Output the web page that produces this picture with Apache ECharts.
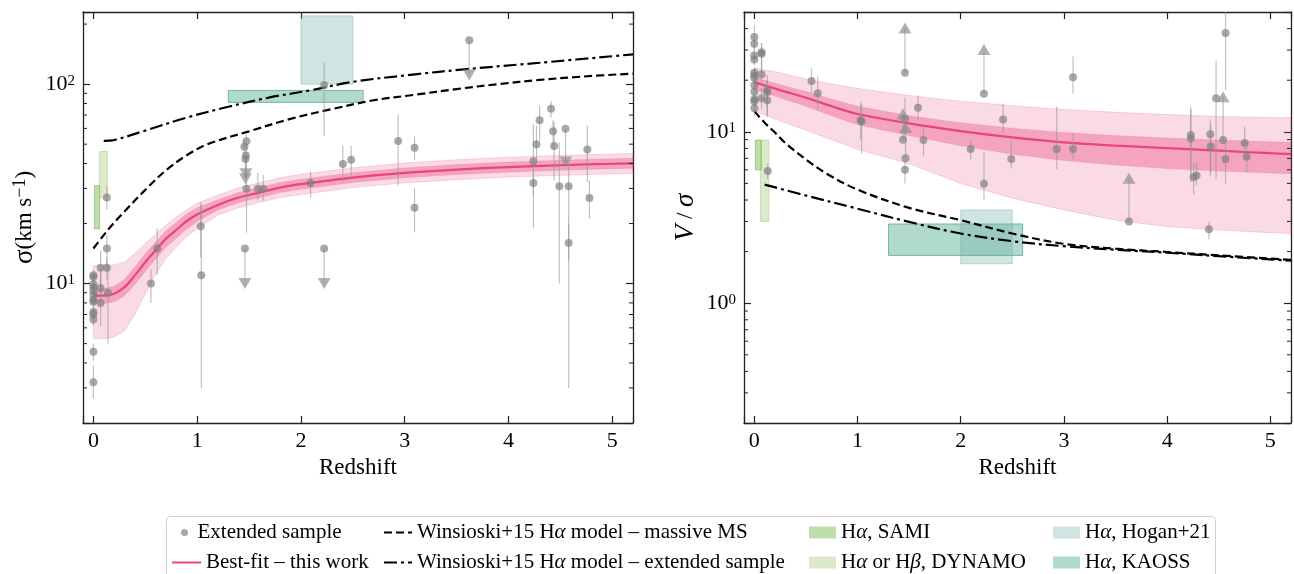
<!DOCTYPE html>
<html><head><meta charset="utf-8">
<script src="https://cdn.jsdelivr.net/npm/echarts@6/dist/echarts.min.js"></script>
<style>html,body{margin:0;padding:0;background:#fff;} #c{width:1294px;height:574px;}</style>
</head><body><div id="c"></div>
<script>
const FONT = '"Liberation Serif", "Times New Roman", serif';

// ---------- tick labels ----------
const xTickValues = [0, 1, 2, 3, 4, 5];
const sigmaMinorTicks = [3,4,5,6,7,8,9,20,30,40,50,60,70,80,90,200];
const vsMinorTicks = [0.3,0.4,0.5,0.6,0.7,0.8,0.9,2,3,4,5,6,7,8,9,20,30,40];

// ---------- sigma panel ----------
// [redshift, sigma, errLow, errHigh]
const sigmaPoints = [
 [0.00,11.0,10.3,11.7],[0.00,10.8,10.2,11.4],[0.00,9.9,9.3,10.5],[0.00,9.6,9.0,10.2],
 [0.00,9.2,8.7,9.8],[0.00,8.8,8.3,9.4],[0.00,8.3,7.8,8.8],[0.00,8.1,7.6,8.6],
 [0.00,7.2,6.8,7.7],[0.00,7.0,6.6,7.5],[0.00,6.6,6.2,7.0],[0.00,4.55,4.1,5.0],
 [0.00,3.2,2.65,3.9],
 [0.07,12.0,9.6,14.6],[0.07,9.5,8.6,10.5],[0.07,8.0,6.1,11.5],
 [0.13,27.0,23.5,31.0],[0.13,15.0,12.5,17.5],[0.13,12.0,10.5,13.5],[0.14,9.0,5.0,12.5],
 [0.555,10.0,8.0,11.8],[0.615,15.0,11.0,18.9],[1.035,19.4,13.6,25.6],[1.04,11.0,3.0,25.0],
 [1.455,48.6,44.0,53.0],[1.475,51.7,47.0,56.0],[1.475,29.9,18.0,50.0],
 [1.585,29.9,26.0,36.0],[1.637,29.9,26.0,35.0],[2.093,31.9,27.0,36.5],
 [2.224,98.9,55.0,128.0],[2.404,39.8,32.5,49.0],[2.484,41.8,34.0,49.0],
 [2.937,51.9,31.0,70.0],[3.095,48.0,41.5,54.8],[3.095,24.0,18.1,30.0],
 [4.24,41.0,19.0,63.0],[4.24,31.9,28.0,36.0],[4.27,49.9,40.0,62.0],[4.30,65.9,52.0,78.0],
 [4.41,75.2,68.0,82.0],[4.43,58.0,47.0,66.0],[4.44,49.0,33.0,64.6],[4.49,30.8,10.0,51.0],
 [4.58,30.8,3.0,40.7],[4.58,16.0,13.0,20.0],[4.76,47.0,32.3,62.0],[4.78,26.9,21.2,33.0]
];
// [redshift, sigma, arrow end]  (upper limits)
const sigmaUpperLimits = [
 [1.465,42.2,33.5],[1.47,43.9,35.5],[1.46,15.0,10.0],[2.224,15.0,10.0],
 [3.622,166,111],[4.55,59.8,40.7]
];
const sigmaFitZ  = [0,0.1,0.2,0.3,0.4,0.5,0.6,0.7,0.8,0.9,1.0,1.2,1.4,1.6,1.8,2.0,2.5,3.0,3.5,4.0,4.5,5.0,5.2];
const sigmaFit   = [8.7,8.7,8.9,9.6,11.0,12.8,14.7,16.8,18.6,20.6,22.2,24.8,27.0,28.6,30.3,31.5,34.0,35.9,37.3,38.4,39.2,39.9,40.1];
const sigmaInLo  = [7.95,7.95,8.1,8.7,9.9,11.5,13.3,15.2,16.9,18.8,20.5,23.4,25.5,27.0,28.6,29.7,32.1,33.9,35.2,36.2,37.0,37.7,37.9];
const sigmaInHi  = [9.45,9.45,9.7,10.5,12.1,14.1,16.1,18.4,20.3,22.4,24.0,26.3,28.6,30.3,32.1,33.4,36.0,38.0,39.5,40.7,41.5,42.3,42.5];
const sigmaOutLo = [5.3,5.3,5.4,5.8,7.0,8.9,11.2,13.4,15.3,17.2,18.9,22.1,24.0,25.5,27.0,28.0,30.3,32.0,33.2,34.2,34.9,35.5,35.7];
const sigmaOutHi = [12.3,12.3,12.4,12.8,14.2,15.9,17.7,19.7,21.6,23.5,25.2,27.8,30.2,32.0,33.9,35.3,38.1,40.2,41.8,43.0,43.9,44.7,44.9];
const sigmaMassiveZ = [0,0.1,0.2,0.3,0.5,0.7,0.9,1.1,1.5,1.9,2.3,2.7,3.1,3.5,3.9,4.3,4.7,5.2];
const sigmaMassive  = [15,17.5,20.2,23.0,29.5,37,44,50,58,67,75,83,88.5,94.5,100,105,109,113];
const sigmaExtZ = [0.1,0.2,0.5,0.9,1.3,1.7,2.1,2.5,3.1,3.6,4.3,5.2];
const sigmaExt  = [52,52.5,58.5,68,77,85.8,93.3,102.7,112,119,128,141];
// boxes [z0, z1, low, high]
const sigmaSAMI   = [0.01,0.06,18.8,31];
const sigmaDYNAMO = [0.06,0.135,27,46];
const sigmaHogan  = [2.0,2.5,100,220];
const sigmaKAOSS  = [1.3,2.6,81,93];

// ---------- V/sigma panel ----------
const vsPoints = [
 [0.00,35.7,30.0,42.0],[0.00,32.6,30.0,35.0],[0.00,27.9,26.0,30.0],[0.00,26.4,24.5,28.5],
 [0.00,22.1,20.5,23.8],[0.00,21.4,19.8,23.0],[0.00,20.7,19.2,22.3],[0.00,18.7,17.3,20.1],
 [0.00,17.1,15.9,18.4],[0.00,15.5,14.4,16.7],[0.00,15.1,14.0,16.3],[0.00,13.7,12.3,15.0],
 [0.07,29.1,22.0,33.0],[0.07,28.5,24.0,33.0],[0.07,21.6,18.5,24.0],[0.07,15.7,13.5,18.0],
 [0.125,17.5,12.5,21.5],[0.125,17.0,14.0,20.0],[0.125,15.3,12.2,17.5],[0.13,5.9,5.3,6.5],
 [0.554,19.8,16.8,23.5],[0.614,16.8,13.5,21.0],[1.03,11.7,9.0,15.0],[1.04,11.5,7.5,14.5],
 [1.46,11.9,9.5,15.8],[1.46,6.0,5.0,6.8],
 [1.586,13.8,11.8,16.3],[1.639,8.95,7.2,10.8],[2.096,7.94,6.9,9.0],[2.225,4.97,4.0,7.6],
 [2.41,11.8,9.75,14.6],[2.49,6.94,6.1,8.8],[2.93,7.94,6.05,14.0],[3.088,7.94,6.9,9.9],
 [3.088,20.8,16.7,27.5],[4.229,9.57,5.1,13.9],[4.229,9.15,5.5,13.5],[4.257,5.43,4.3,6.6],
 [4.285,5.56,4.9,6.6],[4.405,2.7,2.35,3.0],[4.418,9.69,5.5,11.8],[4.422,8.22,5.75,10.9],
 [4.474,15.7,5.3,26.0],[4.566,37.7,17.5,50.0],[4.566,6.94,5.0,8.6],[4.751,8.6,6.9,10.7],
 [4.771,7.16,5.75,8.6]
];
// [redshift, V/sigma, arrow end]  (lower limits)
const vsLowerLimits = [
 [1.46,22.1,40.3],[1.44,9.0,12.7],[1.465,7.0,10.6],[2.225,16.7,30.2],
 [3.63,3.0,5.36],[4.542,8.95,16.0]
];
const vsFitZ  = [0,0.25,0.5,0.75,1.0,1.5,2.0,2.5,3.0,3.5,4.0,4.5,5.0,5.2];
const vsFit   = [19.5,17.5,15.8,14.1,12.7,11.2,10.1,9.27,8.67,8.3,8.04,7.76,7.5,7.42];
const vsInLo  = [17.7,15.8,14.1,12.4,11.0,9.5,8.3,7.4,6.8,6.4,6.1,5.9,5.75,5.7];
const vsInHi  = [20.8,18.8,17.2,15.5,14.1,12.4,11.3,10.5,9.9,9.5,9.2,8.95,8.75,8.7];
const vsOutLo = [13.2,11.6,10.2,9.0,7.9,6.5,5.0,4.1,3.5,3.05,2.8,2.67,2.58,2.55];
const vsOutHi = [23.6,22.1,20.3,19.0,17.9,16.3,15.1,14.2,13.5,13.0,12.6,12.3,12.1,12.1];
const vsMassiveZ = [0,0.1,0.2,0.3,0.5,0.7,1.0,1.5,2.0,2.5,3.0,3.5,4.0,4.5,5.2];
const vsMassive  = [13.2,11.3,9.9,8.6,6.9,5.7,4.6,3.6,3.05,2.55,2.22,2.08,1.99,1.9,1.79];
const vsExtZ = [0.1,0.5,1.0,1.5,2.0,2.5,3.0,3.5,4.0,4.5,5.2];
const vsExt  = [4.92,4.25,3.56,2.98,2.55,2.3,2.15,2.05,1.97,1.88,1.77];
const vsSAMI   = [0.01,0.07,6.0,8.95];
const vsDYNAMO = [0.06,0.14,3.0,8.95];
const vsHogan  = [2.0,2.5,1.7,3.5];
const vsKAOSS  = [1.3,2.6,1.9,2.9];

// ---------- names / colours ----------
const N_EXT = 'Extended sample';
const N_FIT = 'Best-fit – this work';
const N_MS  = 'Winsioski+15 Hα model – massive MS';
const N_EX  = 'Winsioski+15 Hα model – extended sample';
const N_SAMI = 'Hα, SAMI';
const N_DYN  = 'Hα or Hβ, DYNAMO';
const N_HOG  = 'Hα, Hogan+21';
const N_KAO  = 'Hα, KAOSS';
const PINK = '#e8457c';
const BOX = {
  [N_SAMI]: {fill:'rgba(128,190,90,0.5)',  stroke:'rgba(110,175,75,0.55)'},
  [N_DYN]:  {fill:'rgba(160,195,110,0.36)', stroke:'rgba(150,190,100,0.4)'},
  [N_HOG]:  {fill:'rgba(110,175,165,0.32)', stroke:'rgba(110,175,165,0.4)'},
  [N_KAO]:  {fill:'rgba(60,160,130,0.4)',  stroke:'rgba(60,160,130,0.65)'}
};
const XMIN = -0.1, XMAX = 5.2;

function xAxis(gi, pos, labels) {
  return {type:'value', gridIndex:gi, position:pos, min:XMIN, max:XMAX, splitNumber:5,
    name: labels ? 'Redshift' : '', nameLocation:'middle', nameGap:31,
    nameTextStyle:{fontFamily:FONT, fontSize:23, color:'#000'},
    axisLine:{show:true, onZero:false, lineStyle:{color:'#222', width:1.3}},
    axisTick:{show:true, inside:true, length:7, lineStyle:{color:'#222', width:1.2}},
    axisLabel:{show:labels, fontFamily:FONT, fontSize:22, color:'#000', margin:7,
      formatter: v => xTickValues.some(t => Math.abs(t - v) < 1e-9) ? String(Math.round(v)) : ''},
    splitLine:{show:false}};
}
function yAxis(gi, pos, min, max, labels, name, nameRich, nameGap) {
  return {type:'log', logBase:10, gridIndex:gi, position:pos, min, max,
    name: name || '', nameLocation:'middle', nameGap:nameGap || 46, nameRotate:90,
    nameTextStyle:{fontFamily:FONT, fontSize:23, color:'#000', rich:nameRich},
    axisLine:{show:true, onZero:false, lineStyle:{color:'#222', width:1.3}},
    axisTick:{show:true, inside:true, length:7, lineStyle:{color:'#222', width:1.2}},
    axisLabel:{show:labels, fontFamily:FONT, fontSize:22, color:'#000', margin:8,
      formatter: v => { const e = Math.log10(v), r = Math.round(e);
        return Math.abs(e - r) < 1e-6 ? '10{sup|' + r + '}' : ''; },
      rich:{sup:{fontFamily:FONT, fontSize:15, color:'#000', verticalAlign:'top'}}},
    splitLine:{show:false}};
}

function boxSeries(gi, name, box) {
  return {type:'custom', name, xAxisIndex:gi*2, yAxisIndex:gi*2, z:1, silent:true,
    itemStyle:{color:BOX[name].fill},
    data:[box], encode:{x:[0,1], y:[2,3]},
    renderItem(p, api) {
      const a = api.coord([api.value(0), api.value(3)]);
      const b = api.coord([api.value(1), api.value(2)]);
      return {type:'rect', shape:{x:a[0], y:a[1], width:b[0]-a[0], height:b[1]-a[1]},
        style:{fill:BOX[name].fill, stroke:BOX[name].stroke, lineWidth:1}};
    }};
}
function bandSeries(gi, zs, lo, hi, fill, edge, z) {
  return {type:'custom', xAxisIndex:gi*2, yAxisIndex:gi*2, z, silent:true,
    data: zs.map((x,i) => [x, lo[i], hi[i]]), encode:{x:0, y:[1,2]},
    renderItem(p, api) {
      if (p.dataIndex !== 0) return null;
      const pts = [];
      for (let i = 0; i < zs.length; i++) pts.push(api.coord([zs[i], hi[i]]));
      for (let i = zs.length - 1; i >= 0; i--) pts.push(api.coord([zs[i], lo[i]]));
      return {type:'polygon', shape:{points:pts}, style:{fill, stroke:edge, lineWidth:0.8}};
    }};
}
function lineSeries(gi, name, zs, vs, color, type, z) {
  return {type:'line', name, xAxisIndex:gi*2, yAxisIndex:gi*2, z, silent:true,
    symbol:'none', smooth:0.35, data: zs.map((x,i) => [x, vs[i]]),
    lineStyle:{color, width:2.2, type}, itemStyle:{color}};
}
function errSeries(gi, pts, lims) {
  const rows = pts.map(p => [p[0], p[2], p[3]]).concat(lims.map(l => [l[0], Math.min(l[1],l[2]), Math.max(l[1],l[2])]));
  return {type:'custom', xAxisIndex:gi*2, yAxisIndex:gi*2, z:5, silent:true,
    data: rows, encode:{x:0, y:[1,2]},
    renderItem(p, api) {
      const a = api.coord([api.value(0), api.value(1)]);
      const b = api.coord([api.value(0), api.value(2)]);
      return {type:'line', shape:{x1:a[0], y1:a[1], x2:b[0], y2:b[1]},
        style:{stroke:'rgba(150,150,150,0.6)', lineWidth:1.2}};
    }};
}
function pointSeries(gi, pts, lims) {
  return {type:'scatter', name:N_EXT, xAxisIndex:gi*2, yAxisIndex:gi*2, z:6, silent:true,
    symbol:'circle', symbolSize:8,
    itemStyle:{color:'rgba(128,128,128,0.85)'},
    data: pts.map(p => [p[0], p[1]]).concat(lims.map(l => [l[0], l[1]]))};
}
function limitSeries(gi, lims, rot) {
  return {type:'scatter', name:'limits', xAxisIndex:gi*2, yAxisIndex:gi*2, z:6, silent:true,
    symbol:'triangle', symbolSize:[13,11], symbolRotate:rot,
    itemStyle:{color:'rgba(140,140,140,0.85)'},
    data: lims.map(l => [l[0], l[2]])};
}
function minorSeries(gi, vals) {
  return {type:'custom', xAxisIndex:gi*2, yAxisIndex:gi*2, z:10, silent:true, clip:false,
    data: vals.map(v => [0, v]), encode:{x:0, y:1},
    renderItem(p, api) {
      const v = api.value(1);
      const L = api.coord([XMIN, v]), R = api.coord([XMAX, v]);
      return {type:'group', children:[
        {type:'line', shape:{x1:L[0], y1:L[1], x2:L[0]+4, y2:L[1]}, style:{stroke:'#222', lineWidth:1}},
        {type:'line', shape:{x1:R[0]-4, y1:R[1], x2:R[0], y2:R[1]}, style:{stroke:'#222', lineWidth:1}}]};
    }};
}

const series = [
  // sigma panel
  boxSeries(0, N_HOG, sigmaHogan), boxSeries(0, N_KAO, sigmaKAOSS),
  boxSeries(0, N_SAMI, sigmaSAMI), boxSeries(0, N_DYN, sigmaDYNAMO),
  bandSeries(0, sigmaFitZ, sigmaOutLo, sigmaOutHi, 'rgba(232,69,124,0.2)', 'rgba(232,69,124,0.25)', 2),
  bandSeries(0, sigmaFitZ, sigmaInLo, sigmaInHi, 'rgba(232,69,124,0.36)', 'rgba(232,69,124,0.2)', 2),
  lineSeries(0, N_MS, sigmaMassiveZ, sigmaMassive, '#000', [8,4], 3),
  lineSeries(0, N_EX, sigmaExtZ, sigmaExt, '#000', [13,4,3,4], 3),
  lineSeries(0, N_FIT, sigmaFitZ, sigmaFit, PINK, 'solid', 4),
  errSeries(0, sigmaPoints, sigmaUpperLimits),
  pointSeries(0, sigmaPoints, sigmaUpperLimits),
  limitSeries(0, sigmaUpperLimits, 180),
  minorSeries(0, sigmaMinorTicks),
  // V/sigma panel
  boxSeries(1, N_KAO, vsKAOSS), boxSeries(1, N_HOG, vsHogan),
  boxSeries(1, N_SAMI, vsSAMI), boxSeries(1, N_DYN, vsDYNAMO),
  bandSeries(1, vsFitZ, vsOutLo, vsOutHi, 'rgba(232,69,124,0.2)', 'rgba(232,69,124,0.25)', 2),
  bandSeries(1, vsFitZ, vsInLo, vsInHi, 'rgba(232,69,124,0.36)', 'rgba(232,69,124,0.2)', 2),
  lineSeries(1, N_MS, vsMassiveZ, vsMassive, '#000', [8,4], 3),
  lineSeries(1, N_EX, vsExtZ, vsExt, '#000', [13,4,3,4], 3),
  lineSeries(1, N_FIT, vsFitZ, vsFit, PINK, 'solid', 4),
  errSeries(1, vsPoints, vsLowerLimits),
  pointSeries(1, vsPoints, vsLowerLimits),
  limitSeries(1, vsLowerLimits, 0),
  minorSeries(1, vsMinorTicks)
];

const legendText = {fontFamily:FONT, fontSize:21, color:'#000', lineHeight:20,
  rich:{i:{fontFamily:FONT, fontSize:21, fontStyle:'italic', color:'#000'}}};
function legendFmt(n) { return n.replace(/α/g, '{i|α}').replace(/β/g, '{i|β}'); }
function lg(name, left, top, w, h, item) {
  return {data:[Object.assign({name}, item)], left, top,
    itemWidth:w, itemHeight:h, padding:0, selectedMode:false, orient:'vertical',
    textStyle:legendText, formatter:legendFmt, inactiveColor:'#000'};
}
const R1 = 522, R2 = 552;
const lineItem = {itemStyle:{opacity:0}};
const legends = [
  lg(N_EXT, 181, R1, 16, 7, {icon:'circle', itemStyle:{color:'rgba(128,128,128,0.85)'}}),
  lg(N_FIT, 171, R2, 29, 20, lineItem),
  lg(N_MS, 383, R1, 28, 20, lineItem),
  lg(N_EX, 383, R2, 28, 20, lineItem),
  lg(N_SAMI, 809, R1, 27, 12, {icon:'rect', itemStyle:{color:BOX[N_SAMI].fill, borderWidth:0}}),
  lg(N_DYN, 809, R2, 27, 12, {icon:'rect', itemStyle:{color:BOX[N_DYN].fill, borderWidth:0}}),
  lg(N_HOG, 1053, R1, 27, 12, {icon:'rect', itemStyle:{color:BOX[N_HOG].fill, borderWidth:0}}),
  lg(N_KAO, 1053, R2, 27, 12, {icon:'rect', itemStyle:{color:BOX[N_KAO].fill, borderWidth:0}})
];

const option = {
  animation:false,
  backgroundColor:'#fff',
  textStyle:{fontFamily:FONT},
  grid:[{left:83, top:12, width:550, height:411, show:false},
        {left:744, top:12, width:551, height:411, show:false}],
  xAxis:[xAxis(0,'bottom',true), xAxis(0,'top',false), xAxis(1,'bottom',true), xAxis(1,'top',false)],
  yAxis:[
    yAxis(0,'left',2,230,true,'{s|σ}(km s{sup|−1})',
      {s:{fontFamily:FONT, fontSize:27, color:'#000'}, sup:{fontFamily:FONT, fontSize:18, color:'#000', verticalAlign:'top'}}, 45),
    yAxis(0,'right',2,230,false,''),
    yAxis(1,'left',0.2,50,true,'{i|V} / {i|σ}',
      {i:{fontFamily:FONT, fontSize:27, fontStyle:'italic', color:'#000'}}, 45),
    yAxis(1,'right',0.2,50,false,'')
  ],
  legend: legends,
  graphic:[{type:'rect', left:166, top:516, z:-10,
    shape:{width:1049, height:80, r:4}, style:{fill:'#fff', stroke:'#cfcfcf', lineWidth:1}}],
  series
};
const chart = echarts.init(document.getElementById('c'), null, {renderer:'canvas'});
chart.setOption(option);
</script></body></html>
